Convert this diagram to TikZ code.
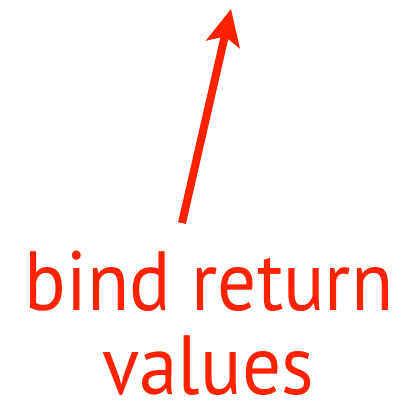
\documentclass[tikz,border=0pt]{standalone}
\usepackage{fontspec}
\setmainfont{PT Sans}
\usetikzlibrary{arrows.meta}
\definecolor{lblred}{HTML}{FF2200}
\begin{document}
\begin{tikzpicture}[x=1pt,y=-1pt,
  lbl/.style={text=lblred,font=\fontsize{84}{84}\selectfont,inner sep=0pt,anchor=base,xscale=0.92},
  arr/.style={draw=lblred,line width=8pt,-{Stealth[length=36pt,width=34pt,inset=8pt]}}]
\useasboundingbox (0,0) rectangle (411,402);
\node[lbl] (l1) at (209,310) {bind return};
\node[lbl] (l2) at (208,394) {values};
\coordinate (tail) at (182,223);
\coordinate (tip) at (231,9);
\draw[arr] (tail) -- (tip);
\end{tikzpicture}
\end{document}
